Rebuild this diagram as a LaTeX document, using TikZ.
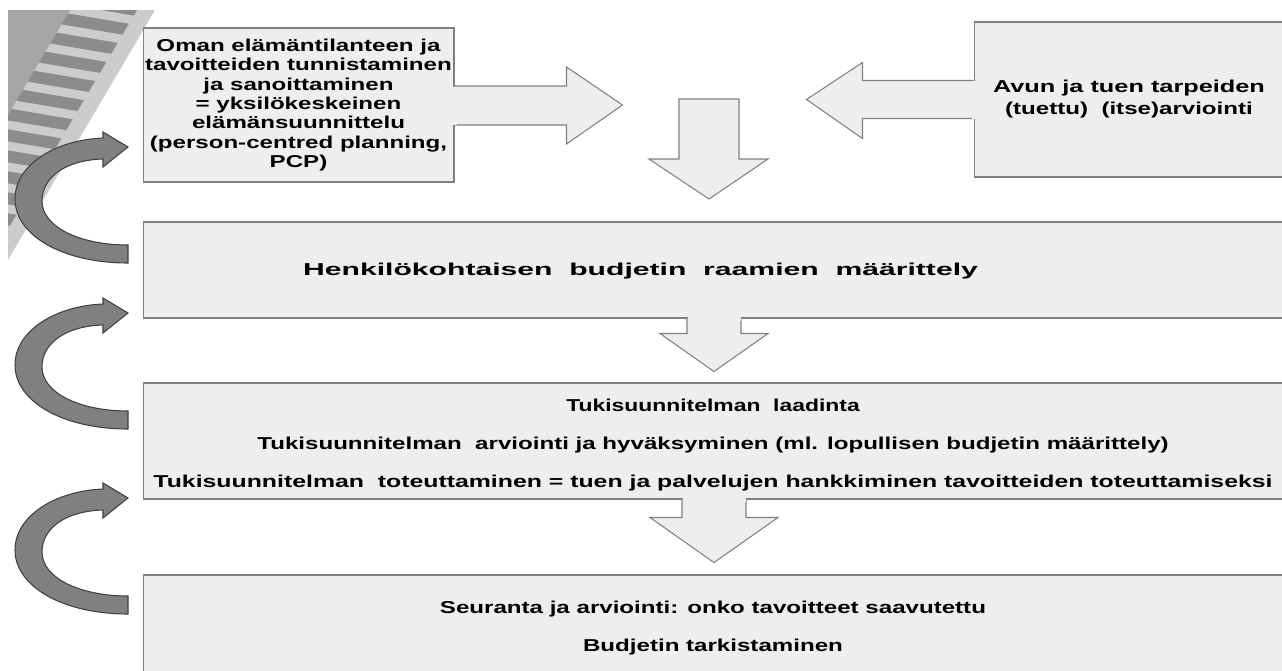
\documentclass[tikz,border=0pt]{standalone}
\usepackage{fontspec}
\usepackage{graphicx}
\setmainfont{Liberation Sans}[FakeStretch=1.4]
\definecolor{boxfill}{HTML}{EEEEEE}
\definecolor{boxline}{HTML}{808080}
\definecolor{turnfill}{HTML}{808080}
\definecolor{turnline}{HTML}{404040}
\definecolor{railband}{HTML}{CCCCCC}
\definecolor{railside}{HTML}{A6A6A6}
\definecolor{railrung}{HTML}{8C8C8C}
\begin{document}
\begin{tikzpicture}[x=0.02cm, y=-0.02cm,
    stage/.style={draw=boxline, fill=boxfill, line width=0.6pt, rectangle, inner sep=0pt,
      align=center, font=\bfseries\fontsize{9.8}{11}\selectfont},
    stagetext/.style={align=center, inner sep=0pt, font=\bfseries\fontsize{9.8}{21.5}\selectfont},
    blockarrow/.style={draw=boxline, fill=boxfill, line width=0.6pt, line join=miter},
    turnarrow/.style={draw=turnline, fill=turnfill, line width=0.6pt}]
    \useasboundingbox (0,0) rectangle (1282,670);

    % ladder in the corner
    \fill[railband] (8,10) -- (155,10) -- (8,260) -- cycle;
    \fill[railside] (8,10) -- (70,10) -- (8,115) -- cycle;
    \begin{scope}
        \clip (70,10) -- (137,10) -- (8,229) -- (8,115) -- cycle;
        \foreach \y in {-40,-19,...,250}
            \fill[railrung] (0,\y) -- (160,\y+27) -- (160,\y+39) -- (0,\y+12) -- cycle;
    \end{scope}

    \node[stage, minimum width=6.22cm, minimum height=3.08cm] (plan) at (298.5,105)
        {Oman elämäntilanteen ja\\tavoitteiden tunnistaminen\\ja sanoittaminen\\= yksilökeskeinen\\elämänsuunnittelu\\(person-centred planning,\\PCP)};
    \node[stage, minimum width=6.2cm, minimum height=3.1cm,
        font=\bfseries\fontsize{9.8}{12.5}\selectfont] (need) at (1129,99.5)
        {\scalebox{1.05}[1]{Avun ja tuen tarpeiden}\\(tuettu) \ (itse)arviointi};
    \node[stage, minimum width=22.8cm, minimum height=1.92cm] (frame) at (713,270) {};
    \node[stage, minimum width=22.8cm, minimum height=2.32cm] (support) at (713,441) {};
    \node[stage, minimum width=22.8cm, minimum height=2.3cm] (review) at (713,632.5) {};

    \node[stagetext] (frametext) at (640.5,271)
        {\scalebox{1.25}[1]{Henkilökohtaisen \ budjetin \ raamien \ määrittely}};
    \node[stagetext] (supporttext) at (713,445)
        {\scalebox{0.95}[1]{Tukisuunnitelman \ laadinta}\\
         Tukisuunnitelman \ arviointi ja hyväksyminen (ml. lopullisen budjetin määrittely)\\
         \scalebox{1.03}[1]{Tukisuunnitelman \ toteuttaminen = tuen ja palvelujen hankkiminen tavoitteiden toteuttamiseksi}};
    \node[stagetext] (reviewtext) at (713,628)
        {Seuranta ja arviointi: onko tavoitteet saavutettu\\Budjetin tarkistaminen};

    % block arrows
    \filldraw[blockarrow] (plan.east) ++(0,-19) -- ++(112,0) -- ++(0,-19) -- ++(56,38)
        -- ++(-56,39) -- ++(0,-19) -- ++(-112,0);
    \fill[boxfill] (plan.east) ++(-2,-18.5) rectangle ++(4,38);
    \filldraw[blockarrow] (need.west) ++(0,-19) -- ++(-111,0) -- ++(0,-18) -- ++(-56,37)
        -- ++(56,39) -- ++(0,-20) -- ++(111,0);
    \fill[boxfill] (need.west) ++(-2,-18.5) rectangle ++(4,38);
    \filldraw[blockarrow] (679,99) -- (739,99) -- (739,159) -- (768,159) -- (709,199)
        -- (649,159) -- (679,159) -- cycle;
    \filldraw[blockarrow] (frame.south) ++(-26,0) -- ++(0,15) -- ++(-27,0) -- ++(54,38)
        -- ++(54,-38) -- ++(-27,0) -- ++(0,-15);
    \fill[boxfill] (frame.south) ++(-25.5,-2) rectangle ++(53,4);
    \filldraw[blockarrow] (support.south) ++(-31,0) -- ++(0,18) -- ++(-32,0) -- ++(64,45)
        -- ++(64,-45) -- ++(-32,0) -- ++(0,-18);
    \fill[boxfill] (support.south) ++(-30.5,-2) rectangle ++(63,4);

    % turning arrows on the left
    \foreach \t in {147,313,498}
        \filldraw[turnarrow] (128,\t+116) .. controls (62,\t+116) and (15,\t+88) .. (15,\t+52)
            .. controls (15,\t+18) and (55,\t-7) .. (103,\t-9)
            -- (103,\t-15) -- (128,\t) -- (103,\t+20) -- (103,\t+12)
            .. controls (66,\t+13) and (42,\t+30) .. (42,\t+54)
            .. controls (42,\t+80) and (80,\t+98) .. (128,\t+98) -- cycle;
\end{tikzpicture}
\end{document}
